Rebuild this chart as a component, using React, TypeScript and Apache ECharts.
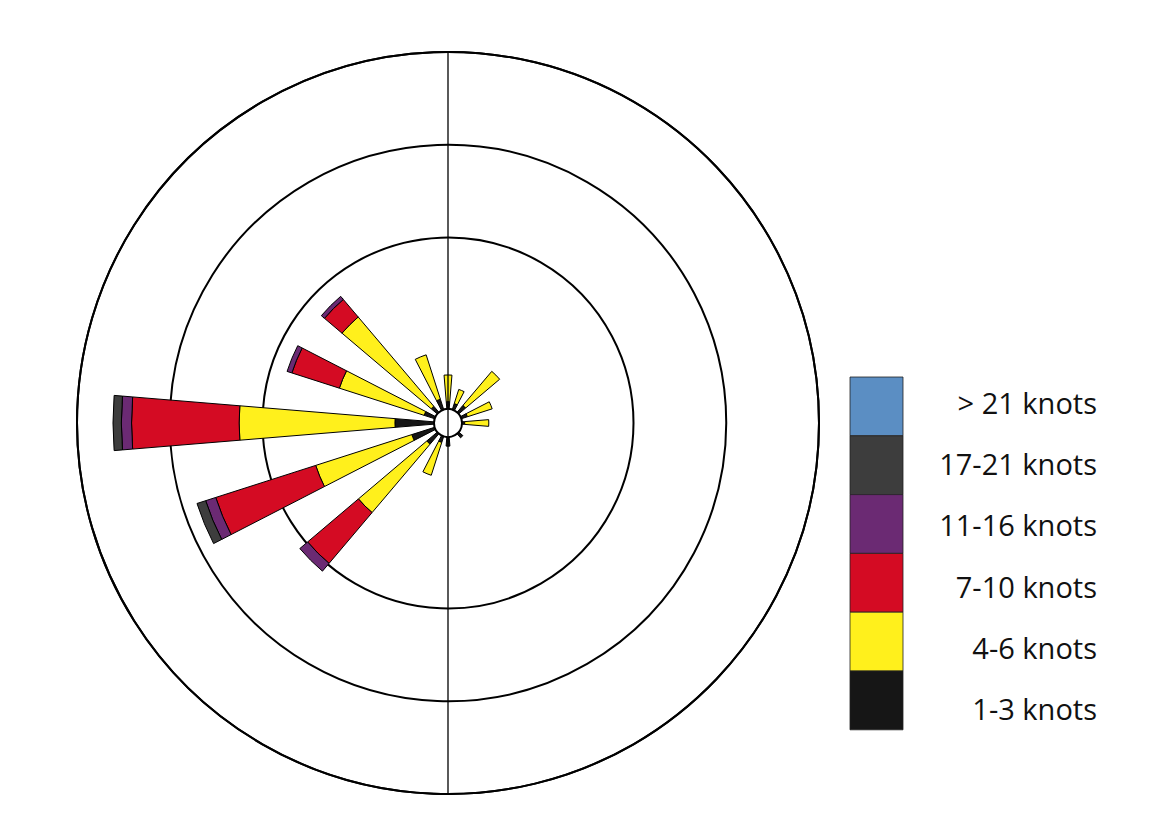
import React, { useEffect, useRef } from 'react';
import * as echarts from 'echarts';

// 16 compass directions, clockwise from north
const directions = ['N', 'NNE', 'NE', 'ENE', 'E', 'ESE', 'SE', 'SSE', 'S', 'SSW', 'SW', 'WSW', 'W', 'WNW', 'NW', 'NNW'];

// Speed classes (inner to outer) and their colours
const speedClasses = ['1-3 knots', '4-6 knots', '7-10 knots', '11-16 knots', '17-21 knots', '> 21 knots'];
const classColors = ['#161616', '#fff01c', '#d40b23', '#6b2a73', '#3d3d3d', '#5b8ec3'];

// Frequency (%) per direction for each speed class
const knots1to3 = [1.15, 1.1, 1.25, 1.1, 0.9, 0.5, 1.05, 0.6, 1.25, 1.1, 1.5, 2.05, 2.86, 1.35, 1.19, 1.35];
const knots4to6 = [1.44, 0.8, 2.4, 1.4, 1.3, 0, 0, 0, 0, 1.86, 4.83, 5.44, 8.4, 4.8, 6.3, 2.51];
const knots7to10 = [0, 0, 0, 0, 0, 0, 0, 0, 0, 0, 3.59, 5.66, 5.8, 2.69, 1.24, 0];
const knots11to16 = [0, 0, 0, 0, 0, 0, 0, 0, 0, 0, 0.55, 0.57, 0.55, 0.27, 0.22, 0];
const knots17to21 = [0, 0, 0, 0, 0, 0, 0, 0, 0, 0, 0, 0.49, 0.45, 0, 0, 0];
const knotsOver21 = [0, 0, 0, 0, 0, 0, 0, 0, 0, 0, 0, 0, 0, 0, 0, 0];

const classData = [knots1to3, knots4to6, knots7to10, knots11to16, knots17to21, knotsOver21];

// Radius scale (%): rings drawn at 10, 15, 20
const radiusMax = 20;
const radiusInterval = 5;
const radiusTicks = [0, 5, 10, 15, 20];
const visibleRings = [10, 15, 20];

export default function App() {
  const ref = useRef<HTMLDivElement>(null);

  useEffect(() => {
    if (!ref.current) return;
    const chart = echarts.init(ref.current, null, { renderer: 'svg' });
    const cx = 448;
    const cy = 423;
    const R = 371;

    const series = speedClasses.map((name, i) => ({
      name,
      type: 'bar',
      coordinateSystem: 'polar',
      stack: 'wind',
      barWidth: '42%',
      data: classData[i].map((v) => (v > 0 ? v : '-')),
      itemStyle: { color: classColors[i], borderColor: '#000', borderWidth: 1 },
      emphasis: { disabled: true },
      z: 2,
    }));

    const boxTop = 377;
    const boxH = 58.8;
    const textTop = 402.5;
    const textStep = 61.2;
    const legendItems: any[] = [];
    const order = speedClasses.map((_, i) => speedClasses.length - 1 - i);
    order.forEach((ci, k) => {
      legendItems.push({
        type: 'rect',
        shape: { x: 850, y: boxTop + k * boxH, width: 53, height: boxH },
        style: { fill: classColors[ci], stroke: '#222', lineWidth: 0.8 },
        z: 10,
      });
      legendItems.push({
        type: 'text',
        x: 1097,
        y: textTop + k * textStep,
        style: {
          text: speedClasses[ci],
          fill: '#111',
          font: '29px "Open Sans", sans-serif',
          align: 'right',
          verticalAlign: 'middle',
        },
        z: 10,
      });
    });

    chart.setOption({
      animation: false,
      backgroundColor: '#fff',
      polar: { center: [cx, cy], radius: [0, R] },
      angleAxis: {
        type: 'category',
        data: directions,
        startAngle: 90 + 360 / directions.length / 2,
        clockwise: true,
        axisLine: { show: true, lineStyle: { color: '#000', width: 2 } },
        axisTick: { show: false },
        axisLabel: { show: false },
        splitLine: { show: false },
      },
      radiusAxis: {
        type: 'value',
        min: 0,
        max: radiusMax,
        interval: radiusInterval,
        axisLine: { show: false },
        axisTick: { show: false },
        axisLabel: { show: false },
        splitLine: {
          show: true,
          lineStyle: {
            width: 2,
            color: radiusTicks.map((t) => (visibleRings.includes(t) ? '#000' : 'rgba(0,0,0,0)')),
          },
        },
      },
      series,
      graphic: [
        {
          type: 'circle',
          shape: { cx, cy, r: 14 },
          style: { fill: '#fff', stroke: '#000', lineWidth: 2 },
          z: 20,
        },
        {
          type: 'line',
          shape: { x1: cx, y1: cy - R, x2: cx, y2: cy + R },
          style: { stroke: '#000', lineWidth: 1.3 },
          z: 21,
        },
        ...legendItems,
      ],
    });

    return () => chart.dispose();
  }, []);

  return (
    <div
      ref={ref}
      style={{ position: 'absolute', left: 0, top: 0, width: 1167, height: 838, background: '#fff' }}
    />
  );
}
